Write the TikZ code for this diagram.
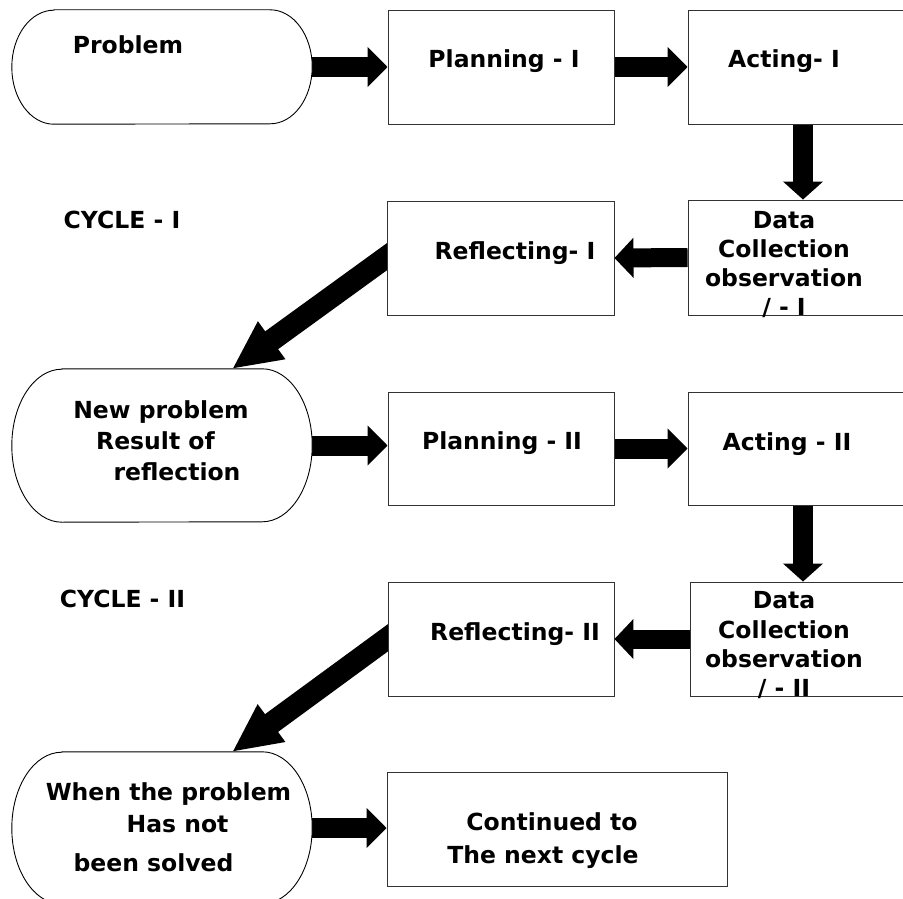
\documentclass[tikz,border=0pt]{standalone}
\usepackage{fontspec}
\setmainfont{DejaVu Sans}
\usetikzlibrary{arrows.meta,calc,backgrounds}
\begin{document}
\begin{tikzpicture}[x=1pt,y=-1pt,
  box/.style={draw=black!80, line width=0.9pt, fill=white, rectangle, inner sep=0pt},
  term/.style={draw=none, rectangle, inner sep=0pt},
  stad/.style={draw=black, line width=0.9pt, fill=white},
  txt/.style={font=\fontsize{23.5}{28}\selectfont\bfseries, inner sep=0pt, anchor=base},
  hbar/.style={line width=20pt, -{Triangle[width=39pt,length=20pt]}},
  vbar/.style={line width=20pt, -{Triangle[width=39pt,length=18pt]}},
  lbar/.style={line width=19pt, -{Triangle[width=39pt,length=19pt]}},
  dbar/.style={line width=22pt, -{Triangle[width=43pt,length=49pt]}}]
\useasboundingbox (0,0) rectangle (903,899);

% ---------- terminator frames (stadiums) ----------
\node[term, minimum width=300, minimum height=114] (prob) at (162,67) {};
\node[term, minimum width=300, minimum height=153] (np) at (162,445.5) {};
\node[term, minimum width=300, minimum height=152] (when) at (162,828) {};

\draw[stad] ($(prob.north west)+(42,0)$) -- ($(prob.north east)+(-42,0)$)
  arc[start angle=-90,end angle=90,x radius=42,y radius=57]
  -- ($(prob.south west)+(42,0)$)
  arc[start angle=90,end angle=270,x radius=42,y radius=57] -- cycle;
\draw[stad] ($(np.north west)+(50,0)$) -- ($(np.north east)+(-50,0)$)
  arc[start angle=-90,end angle=90,x radius=50,y radius=76.5]
  -- ($(np.south west)+(50,0)$)
  arc[start angle=90,end angle=270,x radius=50,y radius=76.5] -- cycle;
\draw[stad] ($(when.north west)+(50,0)$) -- ($(when.north east)+(-50,0)$)
  arc[start angle=-90,end angle=90,x radius=50,y radius=76]
  -- ($(when.south west)+(50,0)$)
  arc[start angle=90,end angle=270,x radius=50,y radius=76] -- cycle;

% ---------- boxes ----------
\node[box, minimum width=226, minimum height=114] (plan1) at (501,67) {};
\node[box, minimum width=230, minimum height=114] (act1) at (803,67) {};
\node[box, minimum width=230, minimum height=115] (data1) at (803,257.5) {};
\node[box, minimum width=227, minimum height=114] (refl1) at (500.5,258) {};
\node[box, minimum width=226, minimum height=113] (plan2) at (501,448.5) {};
\node[box, minimum width=230, minimum height=113] (act2) at (803,448.5) {};
\node[box, minimum width=228, minimum height=114] (data2) at (804,639) {};
\node[box, minimum width=226, minimum height=114] (refl2) at (501,639) {};
\node[box, minimum width=340, minimum height=114] (cont) at (557,829) {};

\coordinate (np1in) at (232,369);
\coordinate (when1in) at (232,752);

% ---------- block arrows (under the shapes) ----------
\begin{pgfonlayer}{background}
\draw[hbar] (prob.east) -- (plan1.west);
\draw[hbar] (plan1.east) -- (act1.west);
\draw[vbar] (act1.south) -- (data1.north);
\draw[lbar] (data1.west) -- (refl1.east);
\draw[dbar] ($(refl1.west)+(11,-9)$) -- (np1in);
\draw[hbar] (np.east) -- (np.east -| plan2.west);
\draw[hbar] (plan2.east) -- (act2.west);
\draw[vbar] (act2.south) -- (act2.south |- data2.north);
\draw[lbar] (data2.west) -- (data2.west -| refl2.east);
\draw[dbar] ($(refl2.west)+(11,-9)$) -- (when1in);
\draw[hbar] (when.east) -- (when.east -| cont.west);
\end{pgfonlayer}

% ---------- texts ----------
\node[txt] (tprob) at (128,54) {Problem};
\node[txt] (tplan1) at (504,68) {Planning - I};
\node[txt] (tact1) at (784,68) {Acting- I};
\node[txt] (tcyc1) at (122,228) {CYCLE - I};
\node[txt] (trefl1) at (515,259) {Reflecting- I};
\node[txt] (td1a) at (784,228) {Data};
\node[txt] (td1b) at (784,257) {Collection};
\node[txt] (td1c) at (784,286) {observation};
\node[txt] (td1d) at (784,315) {/ - I};

\node[txt] (tnpa) at (161,418) {New problem};
\node[txt] (tnpb) at (155.5,449) {Result of};
\node[txt] (tnpc) at (177,480) {reflection};
\node[txt] (tplan2) at (502,449) {Planning - II};
\node[txt] (tact2) at (787,450) {Acting - II};
\node[txt] (tcyc2) at (122.5,607) {CYCLE - II};
\node[txt] (trefl2) at (515,640) {Reflecting- II};
\node[txt] (td2a) at (784,608) {Data};
\node[txt] (td2b) at (784,638) {Collection};
\node[txt] (td2c) at (784,667) {observation};
\node[txt] (td2d) at (784,696) {/ - II};

\node[txt] (twa) at (168.5,800) {When the problem};
\node[txt] (twb) at (177.5,832) {Has not};
\node[txt] (twc) at (153.5,871) {been solved};
\node[txt] (tca) at (552,830) {Continued to};
\node[txt] (tcb) at (543,863) {The next cycle};
\end{tikzpicture}
\end{document}
